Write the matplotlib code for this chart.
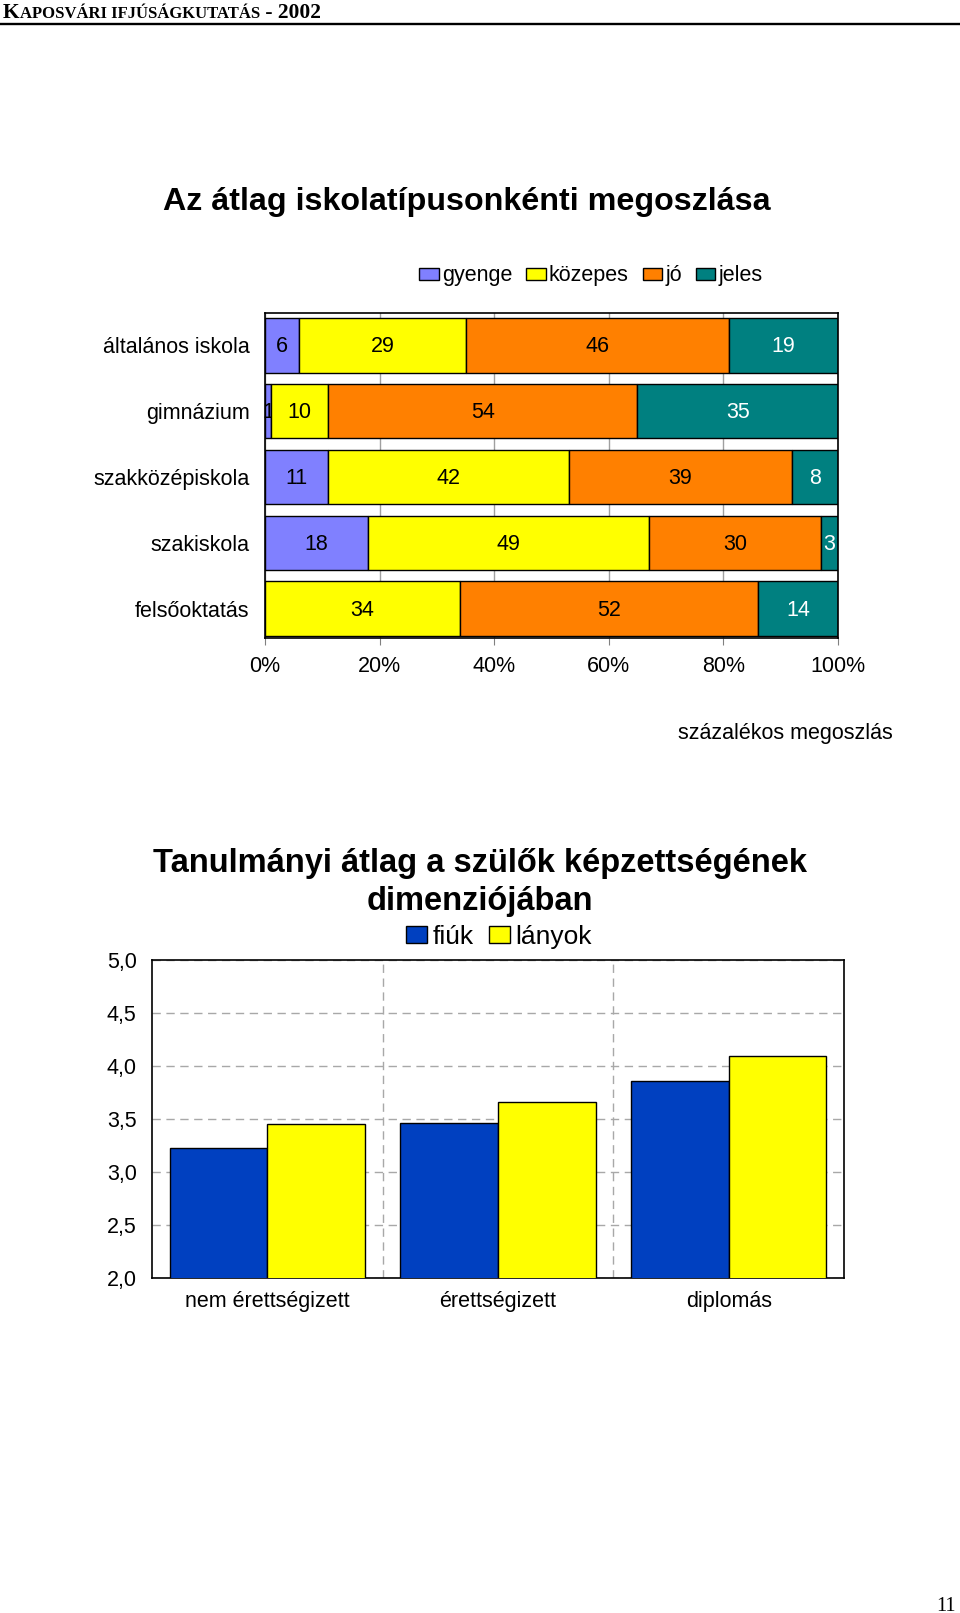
import matplotlib
matplotlib.use('Agg')
import matplotlib.pyplot as plt
import numpy as np

plt.rcParams['font.family'] = ['Liberation Sans', 'DejaVu Sans']

W, H = 960, 1613

# ---------------- data ----------------
school_types = ['általános iskola', 'gimnázium', 'szakközépiskola', 'szakiskola', 'felsőoktatás']
grade_names = ['gyenge', 'közepes', 'jó', 'jeles']
gyenge = [6, 1, 11, 18, 0]
kozepes = [29, 10, 42, 49, 34]
jo = [46, 54, 39, 30, 52]
jeles = [19, 35, 8, 3, 14]
pct_ticks = [0, 20, 40, 60, 80, 100]

parent_edu = ['nem érettségizett', 'érettségizett', 'diplomás']
fiuk = [3.23, 3.46, 3.86]
lanyok = [3.45, 3.66, 4.09]
avg_ticks = [2.0, 2.5, 3.0, 3.5, 4.0, 4.5, 5.0]

grade_colors = ['#8080FF', '#FFFF00', '#FF8000', '#008080']
label_colors = ['black', 'black', 'black', 'white']
FS = 15.5

fig = plt.figure(figsize=(W / 100, H / 100), dpi=100)


def fx(px):
    return px / W


def fy(py):
    return 1 - py / H


# ---------------- header ----------------
fig.add_artist(plt.Line2D([0, 1], [fy(24), fy(24)], color='black', lw=1.7))
serif = ['Liberation Serif', 'DejaVu Serif']
pieces = [('K', 15.5), ('APOSVÁRI IFJÚSÁGKUTATÁS', 12), (' - 2002', 15.5)]
fig.canvas.draw()
renderer = fig.canvas.get_renderer()
xpos = 3
for txt, size in pieces:
    t = fig.text(fx(xpos), fy(17.5), txt, fontsize=size, fontweight='bold',
                 family=serif, ha='left', va='baseline')
    bb = t.get_window_extent(renderer=renderer)
    xpos += bb.width
fig.text(fx(956), fy(1611), '11', fontsize=14.5, family=serif, ha='right', va='baseline')

# ---------------- chart 1 ----------------
fig.text(fx(467), fy(202), 'Az átlag iskolatípusonkénti megoszlása', fontsize=23.2,
         fontweight='bold', ha='center', va='center')

ax1 = fig.add_axes([fx(265), fy(638), (838 - 265) / W, (638 - 313) / H])
y = np.arange(len(school_types))
left = np.zeros(len(school_types))
series = [gyenge, kozepes, jo, jeles]
handles = []
for k, (vals, col, lc, name) in enumerate(zip(series, grade_colors, label_colors, grade_names)):
    vals = np.array(vals, dtype=float)
    b = ax1.barh(y, vals, left=left, height=0.83, color=col, edgecolor='black',
                 linewidth=1, label=name, zorder=3 + 2 * k)
    handles.append(b)
    for yi, v, l in zip(y, vals, left):
        if v > 0:
            ax1.text(l + v / 2, yi + 0.02, f'{int(v)}', ha='center', va='center',
                     fontsize=FS, color=lc, zorder=4 + 2 * k)
    left += vals
ax1.set_xlim(0, 100)
ax1.set_ylim(4.445, -0.49)
ax1.set_yticks(y)
ax1.set_yticklabels(school_types, fontsize=FS)
ax1.tick_params(axis='y', length=0, pad=11)
ax1.set_xticks(pct_ticks)
ax1.set_xticklabels([f'{t}%' for t in pct_ticks], fontsize=FS)
ax1.tick_params(axis='x', length=5, pad=8, color='#808080')
ax1.grid(axis='x', color='#A0A0A0', lw=1)
ax1.set_axisbelow(True)
for s in ax1.spines.values():
    s.set_color('black')
    s.set_linewidth(1.2)
    s.set_zorder(20)

fig.legend(handles=handles, labels=grade_names, loc='center', ncol=4,
           bbox_to_anchor=(fx(591), fy(276)), frameon=False, fontsize=FS,
           handlelength=0.9, handleheight=0.5, handletextpad=0.15,
           columnspacing=0.65, borderpad=0, borderaxespad=0)

fig.text(fx(893), fy(733), 'százalékos megoszlás', fontsize=FS, ha='right', va='center')

# ---------------- chart 2 ----------------
fig.text(fx(480), fy(882.5), 'Tanulmányi átlag a szülők képzettségének\ndimenziójában',
         fontsize=23.5, fontweight='bold', ha='center', va='center', linespacing=1.28)

ax2 = fig.add_axes([fx(152), fy(1278), (844 - 152) / W, (1278 - 960) / H])
x = np.arange(len(parent_edu))
w = 0.424
b1 = ax2.bar(x - w / 2, fiuk, w, color='#0040C0', edgecolor='black', lw=1, zorder=3, label='fiúk')
b2 = ax2.bar(x + w / 2, lanyok, w, color='#FFFF00', edgecolor='black', lw=1, zorder=3, label='lányok')
ax2.set_xlim(-0.5, 2.5)
ax2.set_ylim(2.0, 5.0)
ax2.set_yticks(avg_ticks)
ax2.set_yticklabels([f'{v:.1f}'.replace('.', ',') for v in avg_ticks], fontsize=FS)
ax2.set_xticks(x)
ax2.set_xticklabels(parent_edu, fontsize=FS)
ax2.set_xticks([0.5, 1.5], minor=True)
ax2.tick_params(axis='y', length=0, pad=11)
ax2.tick_params(axis='x', which='both', length=0, pad=9)
ax2.grid(axis='y', color='#A8A8A8', ls=(0, (6, 4)), lw=1)
ax2.grid(axis='x', which='minor', color='#A8A8A8', ls=(0, (6, 4)), lw=1)
ax2.set_axisbelow(True)
for s in ax2.spines.values():
    s.set_color('black')
    s.set_linewidth(1.2)

fig.legend(handles=[b1, b2], labels=['fiúk', 'lányok'], loc='center', ncol=2,
           bbox_to_anchor=(fx(499), fy(937)), frameon=False, fontsize=19,
           handlelength=0.8, handleheight=0.6, handletextpad=0.2,
           columnspacing=0.6, borderpad=0, borderaxespad=0)

fig.savefig('out.png', dpi=100)
